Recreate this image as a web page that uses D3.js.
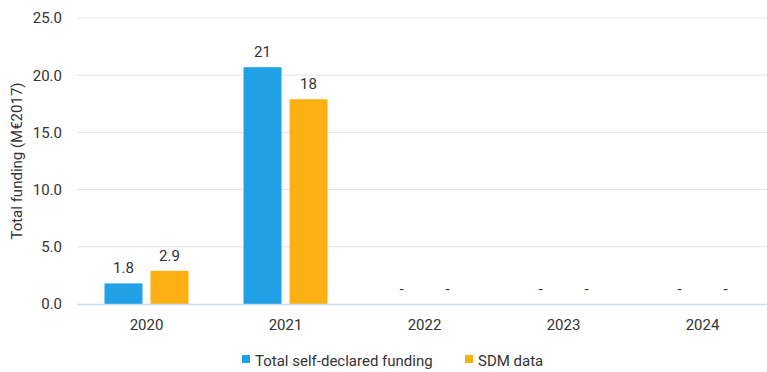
<!DOCTYPE html>
<html>
<head>
<meta charset="utf-8">
<script src="https://cdn.jsdelivr.net/npm/d3@7"></script>
<style>
  body { margin: 0; background: #fff; }
  text { font-family: Roboto, "Liberation Sans", sans-serif; fill: #333; }
</style>
</head>
<body>
<svg id="chart" width="767" height="372"></svg>
<script>
  var years = ['2020', '2021', '2022', '2023', '2024'];
  var selfDeclared = [1.8, 20.7, 0, 0, 0];
  var sdmData = [2.9, 17.9, 0, 0, 0];
  var seriesNames = ['Total self-declared funding', 'SDM data'];
  var seriesColors = ['#22a0e6', '#fdb013'];
  var yTicks = [0, 5, 10, 15, 20, 25];

  var svg = d3.select('#chart');
  var margin = {top: 18, left: 77, bottom: 68},
      height = 372 - margin.top - margin.bottom,
      bandW = 139,
      fs = '15px';

  var x = d3.scaleBand()
    .domain(years)
    .range([margin.left, margin.left + bandW * years.length]);

  var y = d3.scaleLinear()
    .domain([0, 25])
    .range([margin.top + height, margin.top]);

  var barW = 38, gap = 8;
  var inner = d3.scaleOrdinal()
    .domain([0, 1])
    .range([-gap / 2 - barW, gap / 2]);

  // gridlines
  svg.append('g')
    .selectAll('line')
    .data(yTicks.slice(1))
    .enter()
    .append('line')
      .attr('x1', margin.left)
      .attr('x2', 767)
      .attr('y1', function (d) { return y(d); })
      .attr('y2', function (d) { return y(d); })
      .attr('stroke', '#e4e4e4')
      .attr('stroke-width', 1);

  // y axis labels
  var yAxis = d3.axisLeft(y)
    .tickValues(yTicks)
    .tickFormat(d3.format('.1f'))
    .tickSize(0)
    .tickPadding(15);
  var yg = svg.append('g')
    .attr('transform', 'translate(' + margin.left + ',0)')
    .call(yAxis);
  yg.select('.domain').remove();
  yg.selectAll('text')
    .style('font-size', fs)
    .attr('fill', '#333');

  function label(d) {
    if (d === 0) return '-';
    return d < 10 ? d.toFixed(1) : String(Math.round(d));
  }

  var rows = [selfDeclared, sdmData];
  rows.forEach(function (vals, s) {
    var g = svg.append('g');
    g.selectAll('rect')
      .data(vals)
      .enter()
      .append('rect')
        .attr('x', function (d, i) { return x(years[i]) + x.bandwidth() / 2 + inner(s); })
        .attr('width', barW)
        .attr('y', function (d) { return y(d); })
        .attr('height', function (d) { return y(0) - y(d); })
        .attr('fill', seriesColors[s]);

    g.selectAll('text')
      .data(vals)
      .enter()
      .append('text')
        .attr('x', function (d, i) { return x(years[i]) + x.bandwidth() / 2 + inner(s) + barW / 2; })
        .attr('y', function (d) { return y(d) - 10; })
        .attr('text-anchor', 'middle')
        .style('font-size', fs)
        .text(label);
  });

  // zero line
  svg.append('line')
    .attr('x1', margin.left)
    .attr('x2', 767)
    .attr('y1', y(0) + 0.5)
    .attr('y2', y(0) + 0.5)
    .attr('stroke', '#c5dcf6')
    .attr('stroke-width', 1.5);

  // x axis
  var xg = svg.append('g')
    .attr('transform', 'translate(0,' + y(0) + ')')
    .call(d3.axisBottom(x).tickSize(0).tickPadding(15));
  xg.select('.domain').remove();
  xg.selectAll('text')
    .style('font-size', fs)
    .attr('fill', '#333');

  // y title
  svg.append('text')
    .attr('transform', 'translate(22,' + (margin.top + height / 2) + ') rotate(-90)')
    .attr('text-anchor', 'middle')
    .style('font-size', fs)
    .text('Total funding (M€2017)');

  // legend
  var legendX = [242, 465];
  var legend = svg.append('g')
    .selectAll('g')
    .data(seriesNames)
    .enter()
    .append('g')
      .attr('transform', function (d, i) { return 'translate(' + legendX[i] + ',361)'; });
  legend.append('rect')
    .attr('x', 0)
    .attr('y', -6)
    .attr('width', 8)
    .attr('height', 8)
    .attr('fill', function (d, i) { return seriesColors[i]; });
  legend.append('text')
    .attr('x', 13)
    .attr('y', 0)
    .attr('dy', '0.32em')
    .style('font-size', fs)
    .text(function (d) { return d; });
</script>
</body>
</html>
